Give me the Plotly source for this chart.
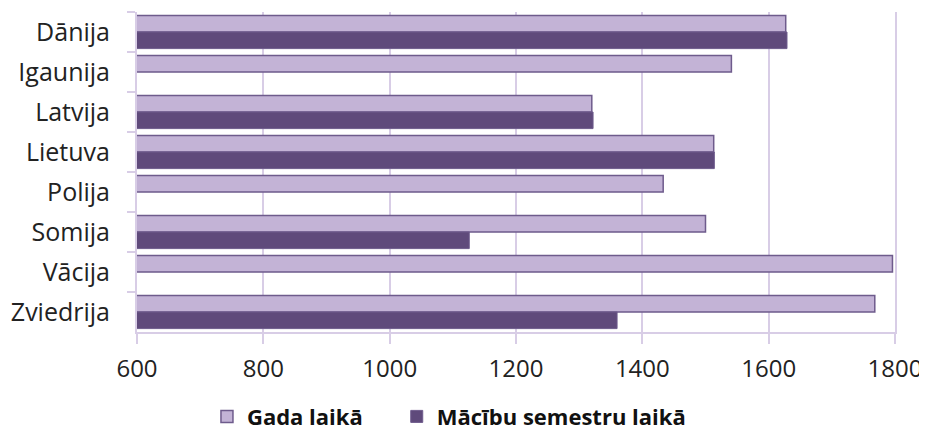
import plotly.graph_objects as go

countries = ["Dānija", "Igaunija", "Latvija", "Lietuva", "Polija", "Somija", "Vācija", "Zviedrija"]
gada_laika = [1627, 1541, 1320, 1513, 1433, 1500, 1796, 1768]
semestru_laika = [1629, None, 1322, 1514, None, 1126, None, 1360]
x_ticks = [600, 800, 1000, 1200, 1400, 1600, 1800]

light = "#c3b3d6"
dark = "#5f4a7b"
edge = "#6e5b8c"
grid = "#d8cde6"

fig = go.Figure()
fig.add_trace(go.Bar(y=countries, x=gada_laika, orientation="h", name="Gada laikā",
                     legend="legend",
                     marker=dict(color=light, line=dict(color=edge, width=1.5))))
fig.add_trace(go.Bar(y=countries, x=semestru_laika, orientation="h", name="Mācību semestru laikā",
                     legend="legend2",
                     marker=dict(color=dark, line=dict(color=edge, width=1))))

leg_common = dict(orientation="h", xref="container", yref="container",
                  xanchor="left", y=0.065, yanchor="middle",
                  font=dict(size=22, color="#111111", weight="bold"), itemwidth=30)

# page body has an 8px margin, so the figure is offset by 8px
fig.update_layout(
    width=919, height=437,
    margin=dict(l=129, r=32, t=4, b=113),
    paper_bgcolor="white", plot_bgcolor="white",
    barmode="group", bargap=0.17, bargroupgap=0,
    font=dict(family="Open Sans, Noto Sans, sans-serif", color="#222222", size=24),
    legend=dict(x=0.2165, **leg_common),
    legend2=dict(x=0.423, **leg_common),
    showlegend=True,
)
fig.update_xaxes(range=[600, 1800], tickvals=x_ticks, showgrid=True, gridcolor=grid, gridwidth=2,
                 showline=True, linecolor=grid, linewidth=2, ticks="outside", ticklen=10,
                 tickcolor=grid, tickwidth=2, zeroline=False, tickfont=dict(size=24),
                 ticklabelstandoff=4)
fig.update_yaxes(autorange="reversed", showline=True, mirror=True, linecolor=grid, linewidth=2,
                 ticks="outside", tickson="boundaries", ticklen=8, tickcolor=grid, tickwidth=2,
                 showgrid=False, tickfont=dict(size=25), ticklabelstandoff=20)

fig.write_html("out.html")
